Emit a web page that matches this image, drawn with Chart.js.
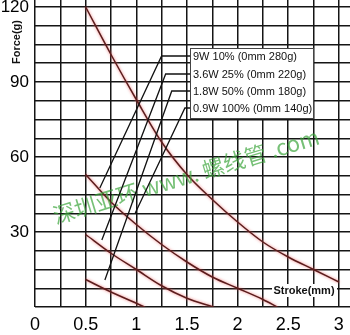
<!DOCTYPE html>
<html>
<head>
<meta charset="utf-8">
<script src="https://cdn.jsdelivr.net/npm/chart.js@4.4.1/dist/chart.umd.min.js"></script>
<style>
  html, body { margin: 0; padding: 0; background: #fff; }
  #wrap { width: 350px; height: 335px; }
</style>
</head>
<body>
<div id="wrap"><canvas id="force-chart" width="350" height="335"></canvas></div>
<script>
// force (g) against stroke (mm), one curve per drive level
const seriesNames = ["9W 10% (0mm 280g)", "3.6W 25% (0mm 220g)", "1.8W 50% (0mm 180g)", "0.9W 100% (0mm 140g)"];

const stroke9w  = [0.5, 0.75, 1.0, 1.25, 1.5, 1.75, 2.0, 2.25, 2.5, 2.75, 3.0];
const force9w   = [120, 101, 83, 66, 53, 43, 34, 26, 20, 15, 10];
const stroke36w = [0.5, 0.75, 1.0, 1.25, 1.5, 1.75, 2.0, 2.25, 2.39];
const force36w  = [53, 42, 33, 25, 18, 12, 7.5, 3, 0];
const stroke18w = [0.5, 0.75, 1.0, 1.25, 1.5, 1.76];
const force18w  = [29, 21.5, 15, 8.5, 3.5, 0];
const stroke09w = [0.5, 0.75, 1.0, 1.08];
const force09w  = [11, 6, 1.5, 0];

// grid every 0.25mm / 7.5g, labels every 0.5mm / 30g
const xTicks = [0, 0.25, 0.5, 0.75, 1, 1.25, 1.5, 1.75, 2, 2.25, 2.5, 2.75, 3];
const yTicks = [0, 7.5, 15, 22.5, 30, 37.5, 45, 52.5, 60, 67.5, 75, 82.5, 90, 97.5, 105, 112.5, 120];
const xLabels = [0, 0.5, 1, 1.5, 2, 2.5, 3];
const yLabels = [30, 60, 90, 120];

// pointer lines from the legend rows: [bend stroke, end stroke, end force]
const pointers = [[1.25, 0.64, 47.6], [1.29, 0.66, 26.8], [1.35, 0.69, 10.8], [1.48, 0.99, 37.6]];

function pts(xs, ys) {
  return xs.map((x, i) => ({ x: x, y: ys[i] }));
}

function curve(label, xs, ys) {
  return {
    label: label,
    data: pts(xs, ys),
    borderColor: "#5a1c1c",
    borderWidth: 1.5,
    pointRadius: 0,
    fill: false,
    cubicInterpolationMode: "monotone"
  };
}

// soft red glow round the curves
const glow = {
  id: "glow",
  beforeDatasetsDraw(chart) {
    const ctx = chart.ctx;
    ctx.save();
    ctx.shadowColor = "rgba(235,90,90,0.85)";
    ctx.shadowBlur = 3;
  },
  afterDatasetsDraw(chart) {
    chart.ctx.restore();
  }
};

const extras = {
  id: "extras",
  afterDraw(chart) {
    const ctx = chart.ctx;
    const xs = chart.scales.x, ys = chart.scales.y;

    // site watermark
    ctx.save();
    ctx.translate(186, 176);
    ctx.rotate(-0.295);
    ctx.fillStyle = "rgba(60,165,60,0.7)";
    ctx.font = '22px "Noto Sans CJK SC"';
    ctx.textAlign = "center";
    ctx.textBaseline = "middle";
    ctx.fillText("深圳亚环 www. 螺线管 .com", 0, 0);
    ctx.restore();

    // legend box
    const bx = 190, by = 48, bw = 123, bh = 70;
    const rows = [56, 74, 91, 108];

    ctx.save();
    ctx.strokeStyle = "#111";
    ctx.lineWidth = 1.3;
    pointers.forEach((p, i) => {
      const cx = xs.getPixelForValue(p[0]);
      ctx.beginPath();
      ctx.moveTo(bx, rows[i]);
      ctx.lineTo(cx, rows[i]);
      ctx.lineTo(xs.getPixelForValue(p[1]), ys.getPixelForValue(p[2]));
      ctx.stroke();
    });

    ctx.fillStyle = "#fff";
    ctx.fillRect(bx, by, bw, bh);
    ctx.strokeStyle = "#444";
    ctx.lineWidth = 1;
    ctx.strokeRect(bx + 0.5, by + 0.5, bw, bh);

    ctx.fillStyle = "#111";
    ctx.font = '11px "Liberation Sans", Arial, sans-serif';
    ctx.textBaseline = "middle";
    seriesNames.forEach((t, i) => ctx.fillText(t, bx + 3, rows[i] + 0.5));

    // axis titles
    ctx.font = 'bold 11px "Liberation Sans", Arial, sans-serif';
    ctx.textAlign = "center";
    ctx.fillStyle = "#fff";
    ctx.fillRect(272, 284, 65, 13);
    ctx.fillStyle = "#111";
    ctx.fillText("Stroke(mm)", 304, 291);

    ctx.translate(17, 42);
    ctx.rotate(-Math.PI / 2);
    ctx.fillText("Force(g)", 0, 0);
    ctx.restore();
  }
};

const tickFont = { family: '"Liberation Sans", Arial, sans-serif' };

new Chart("force-chart", {
  type: "line",
  data: {
    datasets: [
      curve(seriesNames[0], stroke9w, force9w),
      curve(seriesNames[1], stroke36w, force36w),
      curve(seriesNames[2], stroke18w, force18w),
      curve(seriesNames[3], stroke09w, force09w)
    ]
  },
  options: {
    responsive: false,
    animation: false,
    layout: { padding: 0 },
    plugins: {
      legend: { display: false },
      tooltip: { enabled: false }
    },
    scales: {
      x: {
        type: "linear",
        min: 0,
        max: 3.11,
        afterBuildTicks: s => { s.ticks = xTicks.map(v => ({ value: v })); },
        afterFit: s => { s.height = 28; s.paddingLeft = 0; s.paddingRight = 0; },
        grid: { color: "#151515", lineWidth: 1.5, drawTicks: false },
        border: { display: false },
        ticks: {
          autoSkip: false,
          maxRotation: 0,
          padding: 7,
          color: "#000",
          font: Object.assign({ size: 18 }, tickFont),
          callback: v => xLabels.includes(v) ? String(v) : ""
        }
      },
      y: {
        type: "linear",
        min: 0,
        max: 122.8,
        afterBuildTicks: s => { s.ticks = yTicks.map(v => ({ value: v })); },
        afterFit: s => { s.width = 35; s.paddingTop = 0; s.paddingBottom = 0; },
        grid: { color: "#151515", lineWidth: 1.5, drawTicks: false },
        border: { display: false },
        ticks: {
          autoSkip: false,
          padding: 6,
          color: "#000",
          font: Object.assign({ size: 17 }, tickFont),
          callback: v => yLabels.includes(v) ? String(v) : ""
        }
      }
    }
  },
  plugins: [glow, extras]
});
</script>
</body>
</html>
